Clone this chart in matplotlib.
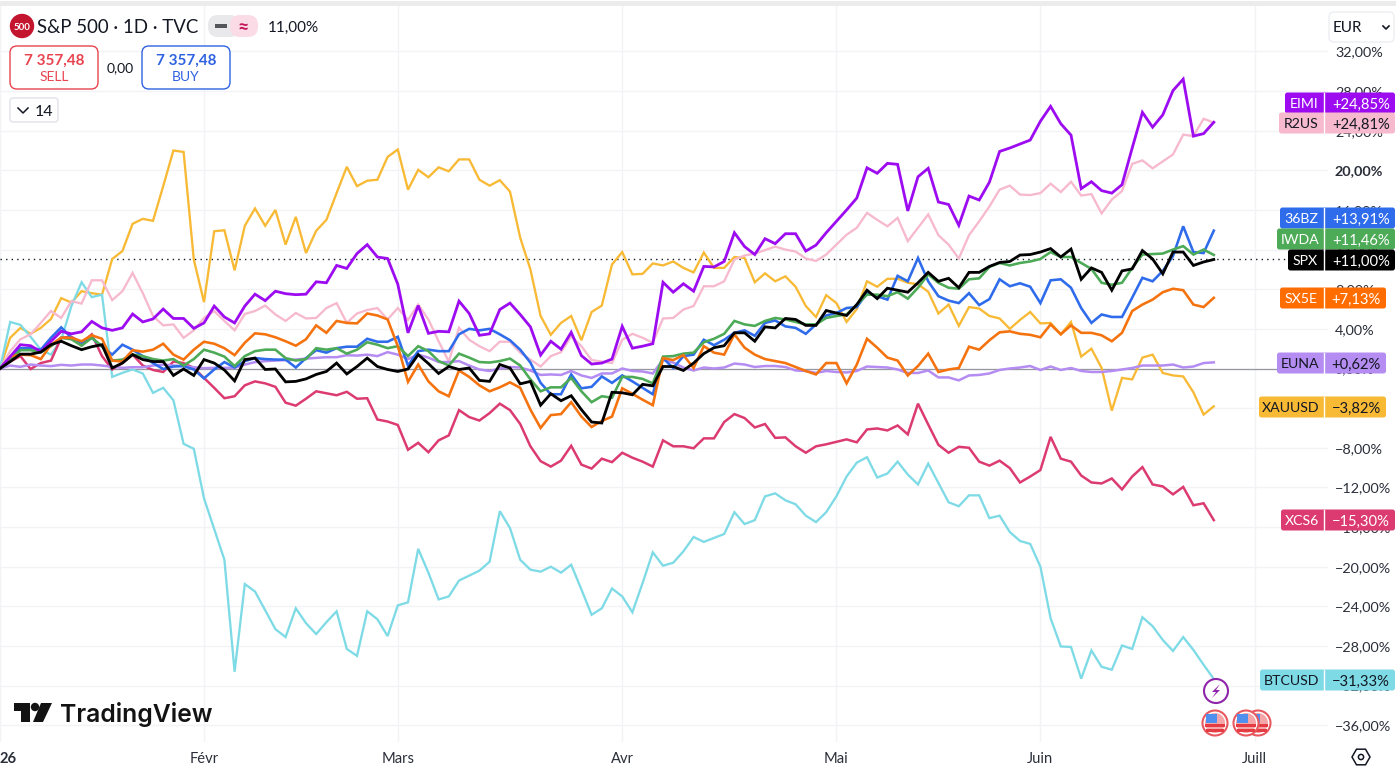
import numpy as np
import matplotlib
matplotlib.use("Agg")
import matplotlib.pyplot as plt
from matplotlib.patches import FancyBboxPatch, Circle, Polygon, Rectangle, RegularPolygon

plt.rcParams['font.family'] = ['Lato', 'DejaVu Sans']

# values in % since the start of the year, one per trading day
xauusd = [0,3.1,4.1,3.5,4.1,5.0,7.1,6.65,7.8,7.6,
          7.45,11.05,11.85,14.6,15.1,14.9,18.4,22.0,21.85,11.0,
          6.7,13.85,13.95,9.9,14.4,16.15,14.4,16.0,12.5,15.3,
          11.65,13.9,15.0,17.7,20.35,18.4,18.95,19.05,21.35,22.1,
          18.05,20.05,19.3,20.3,19.9,21.1,21.1,19.05,18.45,19.0,
          17.85,13.2,10.0,5.3,3.4,4.6,5.3,2.85,5.7,6.35,
          10.5,11.75,9.5,9.55,10.6,10.4,10.8,10.15,9.7,11.7,
          10.15,10.15,11.25,11.15,8.7,9.6,8.8,9.3,8.25,6.3,
          5.2,7.4,6.6,4.7,6.0,8.8,8.25,9.05,9.05,8.65,
          8.5,7.75,5.55,6.45,4.3,6.2,6.05,5.3,5.05,4.0,
          4.9,5.7,4.55,4.6,3.45,4.7,1.2,2.0,0.06,-4.25,
          -0.95,-1.1,1.1,1.4,-0.45,-0.7,-0.8,-2.4,-4.65,-3.82]

btcusd = [0,4.7,4.4,3.2,1.9,1.4,2.9,6.3,8.7,7.2,
          7.45,-0.85,-0.44,-0.1,-0.5,-2.46,-1.95,-3.2,-7.6,-8.1,
          -13.1,-16.2,-19.3,-30.6,-21.75,-22.5,-24.4,-26.3,-27.1,-24.2,
          -25.7,-26.8,-25.6,-24.5,-28.3,-29.0,-24.5,-25.3,-27.0,-23.9,
          -23.6,-18.2,-20.6,-23.3,-23.0,-21.4,-20.9,-20.4,-19.5,-14.4,
          -16.1,-19.3,-20.3,-20.5,-20.0,-20.6,-19.8,-22.3,-24.85,-24.2,
          -22.2,-23.0,-24.6,-21.65,-18.55,-19.9,-19.6,-18.45,-17.0,-17.5,
          -17.1,-16.7,-14.5,-15.7,-15.3,-12.9,-12.6,-13.3,-13.7,-14.85,
          -15.5,-14.5,-12.9,-10.9,-9.5,-8.95,-11.0,-10.6,-9.4,-10.7,
          -11.7,-9.6,-11.55,-13.5,-13.9,-12.8,-12.8,-15.1,-14.85,-16.5,
          -17.4,-17.7,-20.0,-25.2,-28.05,-28.1,-31.3,-28.45,-30.1,-30.4,
          -27.95,-28.3,-25.1,-26.0,-27.4,-28.5,-27.1,-28.4,-29.9,-31.33]

r2us = [0,1.75,2.95,3.45,4.6,5.8,5.1,6.8,6.55,8.9,
        8.9,6.9,7.8,9.65,7.6,5.3,4.35,4.45,3.1,3.85,
        5.1,5.8,4.8,3.85,5.5,5.8,6.35,5.45,4.8,5.6,
        5.05,5.1,6.1,6.6,4.6,5.55,5.9,6.1,4.95,6.1,
        4.9,6.45,4.95,2.75,0.7,4.1,2.9,2.25,1.75,2.7,
        2.7,1.6,0.9,0.2,1.25,1.65,3.25,2.25,0.85,0.7,
        0.55,2.9,3.5,3.1,2.6,5.05,5.1,5.95,6.3,8.3,
        8.3,8.8,11.0,11.4,11.6,11.95,12.3,12.0,11.8,11.1,
        10.85,11.5,12.5,13.5,14.2,15.7,15.0,14.35,15.2,12.85,
        14.2,15.55,13.45,12.5,11.1,13.45,14.85,16.35,18.05,18.45,
        17.55,17.5,17.7,18.65,17.8,18.85,17.45,17.6,15.65,17.05,
        17.9,20.65,21.0,20.2,20.9,21.6,23.6,23.45,25.2,24.81]

xcs6 = [0,0.7,1.25,-0.05,0.55,0.8,3.1,3.2,2.6,3.45,
        1.25,-0.1,0.55,1.4,0.3,-0.15,-0.35,0.7,0.55,0.05,
        -0.95,-1.95,-3.0,-2.8,-1.7,-1.3,-1.5,-1.85,-3.45,-3.75,
        -3.05,-2.3,-2.5,-2.7,-2.35,-3.05,-3.0,-5.15,-5.35,-5.7,
        -8.2,-7.5,-8.45,-7.25,-6.75,-4.2,-4.9,-5.25,-4.5,-3.55,
        -4.2,-5.6,-7.85,-9.35,-9.9,-9.3,-7.8,-9.7,-10.1,-9.1,
        -9.45,-8.5,-9.0,-9.4,-9.9,-7.25,-7.85,-7.85,-8.05,-7.05,
        -7.05,-5.4,-4.6,-5.0,-5.95,-5.6,-7.0,-6.95,-7.85,-8.5,
        -7.85,-7.65,-7.4,-7.15,-7.45,-6.15,-6.05,-6.25,-5.75,-6.65,
        -3.55,-5.65,-7.7,-8.5,-7.9,-8.0,-9.4,-9.8,-9.3,-10.05,
        -11.5,-10.9,-10.25,-6.9,-9.1,-9.4,-10.8,-11.5,-11.6,-11.1,
        -12.2,-10.9,-9.95,-11.7,-11.9,-12.7,-11.95,-13.8,-13.6,-15.3]

euna = [0,0.3,0.17,0.4,0.3,0.24,0.37,0.3,0.4,0.4,
        0.3,0.17,0.07,0.13,0.13,0.3,0.4,0.3,0.24,0.13,
        0.03,0.07,0.07,0.07,0.4,0.64,0.74,0.8,0.84,0.9,
        1.0,1.07,1.14,1.14,1.34,1.3,1.4,1.25,1.65,1.4,
        0.95,1.4,1.1,0.65,0.65,0.75,0.3,-0.1,-0.25,0.0,
        0.15,0.1,-0.2,-0.65,-0.6,-0.65,-0.25,-0.7,-0.95,-0.5,
        -0.5,0.0,-0.25,-0.3,-0.5,0.9,0.6,0.1,-0.2,0.1,
        0.0,0.1,0.5,0.4,0.15,0.25,0.25,0.15,-0.2,-0.25,
        -0.45,-0.25,-0.35,-0.4,-0.25,0.2,0.15,0.1,-0.1,-0.45,
        -0.45,-0.2,-0.9,-0.9,-1.2,-0.7,-0.65,-0.5,-0.15,0.0,
        0.1,0.25,-0.15,0.2,-0.15,0.05,-0.25,-0.35,-0.35,-0.25,
        -0.1,0.05,0.3,0.3,0.3,0.4,0.1,0.2,0.55,0.62]

bz36 = [0,1.05,2.05,2.05,1.9,3.1,4.15,3.1,2.6,3.1,
        2.2,1.4,2.4,1.9,1.25,0.55,-0.05,0.2,0.25,-0.1,
        -1.0,-0.1,0.65,0.1,0.75,1.05,0.95,0.9,0.9,0.1,
        1.05,1.85,1.6,2.05,2.2,2.2,3.0,2.7,2.7,3.2,
        0.3,1.75,1.9,1.75,1.75,3.45,4.0,3.85,4.0,3.45,
        2.85,1.9,0.6,-1.45,-2.6,-2.6,-0.6,-2.0,-1.85,-0.8,
        -1.45,-0.7,-1.3,-1.95,-2.6,1.05,0.05,1.25,1.4,2.9,
        2.35,2.9,3.6,3.85,3.3,4.6,4.85,4.25,4.1,3.5,
        4.45,5.35,5.6,6.1,6.2,7.6,7.3,6.95,9.35,8.8,
        11.15,8.8,7.3,6.85,6.6,7.6,6.4,7.0,9.0,8.3,
        8.6,8.25,6.6,8.9,9.0,8.15,6.1,4.6,5.45,5.2,
        5.2,7.15,9.15,8.8,9.85,11.35,14.35,11.75,11.65,13.91]

iwda = [0,0.9,1.85,1.85,1.65,2.25,3.1,2.95,2.3,3.1,
        2.25,0.8,0.9,1.4,1.25,0.95,0.8,0.95,0.3,0.95,
        1.9,1.6,1.2,0.25,1.25,1.75,1.9,1.9,1.05,0.8,
        0.95,2.05,1.9,2.05,1.5,1.9,2.65,2.4,2.05,2.25,
        1.25,2.25,1.75,0.75,0.3,1.5,1.1,0.65,0.6,0.75,
        1.0,0.3,-1.1,-2.3,-1.9,-1.9,-0.95,-2.3,-3.4,-2.8,
        -2.95,-0.85,-0.85,-1.05,-1.5,1.2,1.25,1.5,1.6,2.65,
        3.0,3.5,4.8,4.45,4.3,4.8,5.1,4.95,4.7,4.45,
        4.45,5.1,5.3,5.45,6.45,7.45,7.45,7.3,7.7,7.05,
        8.15,9.5,8.65,8.15,8.05,9.0,9.1,10.25,10.65,10.4,
        10.65,10.8,11.05,11.75,11.25,11.25,10.65,10.05,8.65,8.45,
        8.65,10.15,11.5,11.55,11.6,12.0,12.35,11.5,12.0,11.46]

sx5e = [0,1.2,1.4,1.35,0.95,2.4,3.1,3.1,2.75,3.35,
        3.0,0.8,0.7,1.85,1.7,1.9,2.5,1.4,0.9,1.9,
        2.7,2.5,2.05,1.35,2.6,3.55,3.45,3.15,2.75,2.3,
        2.95,4.35,3.6,4.8,4.6,4.55,5.55,5.35,4.95,2.25,
        -1.35,0.4,-1.3,-2.3,-2.8,-0.2,-0.85,-1.7,-2.3,-1.9,
        -1.4,-1.95,-4.15,-6.0,-4.7,-4.6,-3.4,-4.85,-5.9,-5.3,
        -4.85,-2.0,-2.55,-3.15,-3.7,1.05,0.85,1.35,0.05,2.25,
        1.6,1.4,3.45,2.1,1.4,0.95,0.75,0.55,0.15,-0.25,
        -0.6,0.55,0.55,-1.5,0.4,3.0,2.1,1.1,0.8,-0.7,
        0.25,1.5,-0.35,-0.1,0.05,2.2,1.9,2.85,3.65,3.75,
        3.5,3.4,3.15,4.45,3.45,4.35,3.6,3.6,3.35,2.75,
        3.6,5.8,6.45,6.95,7.7,8.05,7.9,6.45,6.2,7.13]

eimi = [0,1.2,2.4,2.3,1.7,2.75,3.75,3.5,3.7,4.75,
        4.1,3.85,4.1,5.5,4.7,5.0,6.0,5.05,5.05,4.05,
        4.6,6.3,5.2,4.6,6.3,7.5,6.85,7.8,7.55,7.45,
        7.5,8.75,8.65,10.4,10.1,11.6,12.5,11.25,11.1,8.5,
        3.6,6.35,3.55,3.75,3.7,6.8,5.55,3.35,3.5,5.95,
        6.6,5.45,4.2,1.35,2.75,1.95,3.65,1.3,0.45,0.55,
        0.95,4.25,2.05,2.25,2.5,8.7,7.7,8.55,7.8,10.3,
        10.25,10.8,13.7,12.3,11.5,13.1,12.6,13.6,13.6,11.85,
        12.45,13.7,14.85,16.0,17.2,20.25,19.7,20.7,20.6,15.9,
        19.35,20.2,16.8,16.55,14.45,17.4,17.0,18.8,21.9,22.25,
        22.65,23.05,24.95,26.45,24.7,23.55,18.15,18.85,17.95,17.7,
        18.55,22.25,25.85,24.35,25.6,28.05,29.2,23.45,23.7,24.85]

spx = [0,0.7,1.45,1.45,1.65,2.4,2.75,2.3,1.9,2.2,
       2.4,0.05,0.55,1.4,0.9,0.7,0.7,-0.7,-0.05,-0.7,
       0.9,0.55,-0.15,-1.25,0.9,1.05,-0.1,-0.05,-1.35,-1.3,
       -1.05,-0.6,-0.3,0.55,-0.55,0.2,1.05,0.2,-0.1,-0.3,
       -0.05,1.4,0.5,-0.5,0.2,-0.1,0.05,-1.2,-1.3,0.4,
       0.05,-1.55,-1.3,-3.7,-2.55,-3.25,-2.75,-4.15,-5.4,-5.5,
       -2.4,-2.45,-2.65,-1.6,-1.75,0.2,0.2,-0.2,0.55,1.5,
       2.1,2.3,3.6,3.6,2.75,4.2,4.1,5.05,4.95,4.35,
       4.35,5.85,5.6,5.35,6.45,7.9,7.05,8.1,7.9,7.7,
       8.65,9.7,8.8,9.1,8.15,9.7,9.7,10.3,10.7,10.8,
       11.45,11.5,11.75,12.1,11.25,12.05,9.0,10.15,9.7,7.9,
       9.85,10.05,11.9,11.05,9.55,11.75,11.75,10.4,10.75,11.0]

# trading day index of each month start, and the labels under the chart
month_bars = [0, 20, 39, 61, 82, 102, 123]
month_labels = ['26', 'Févr', 'Mars', 'Avr', 'Mai', 'Juin', 'Juill']
pct_ticks = list(range(-36, 36, 4))

# back to front
series = [(xauusd, '#f8b935', 2.3), (btcusd, '#7edbe6', 2.3), (r2us, '#f6b9cd', 2.3),
          (xcs6, '#dc3b72', 2.5), (euna, '#b48cf2', 2.5), (bz36, '#2f6ceb', 2.6),
          (iwda, '#4daa57', 2.6), (sx5e, '#f5730f', 2.6), (eimi, '#9d0cf0', 2.8),
          (spx, '#000000', 2.8)]

# tag rows: name, text, left edge, right edge, centre row, fill, text colour
tag_names = ['EIMI', 'R2US', '36BZ', 'IWDA', 'SPX', 'SX5E', 'EUNA', 'XAUUSD', 'XCS6', 'BTCUSD']
tag_values = ['+24,85%', '+24,81%', '+13,91%', '+11,46%', '+11,00%', '+7,13%', '+0,62%',
              '\u22123,82%', '\u221215,30%', '\u221231,33%']
tag_left = [1285, 1279, 1280, 1277, 1288, 1280, 1277, 1259, 1281, 1260]
tag_right = [1395, 1395, 1395, 1395, 1395, 1386, 1386, 1386, 1395, 1395]
tag_row = [103, 123, 218, 239, 260, 298, 363, 407, 520, 680]
tag_fill = ['#9d0cf0', '#f6b9cd', '#2f6ceb', '#4daa57', '#000000', '#ff6d00', '#b48cf2',
            '#f8b935', '#dc3b72', '#7edbe6']
tag_text = ['white', '#131722', 'white', 'white', 'white', 'white', '#131722',
            '#131722', 'white', '#131722']

W, H = 1396, 772
fig = plt.figure(figsize=(W / 100, H / 100), dpi=100, facecolor='white')

# chart pane runs from x=0 to x=1328, y=5 to y=742 in pixels
ax = fig.add_axes([0, 1 - 742 / H, 1328 / W, 737 / H])
ax.set_xlim(0, 1328 / 10.2)
ax.set_ylim((368.5 - 742) / 9.91, (368.5 - 5) / 9.91)
for s in ax.spines.values():
    s.set_visible(False)

ax.set_xticks(month_bars, month_labels)
ax.yaxis.tick_right()
ax.set_yticks(pct_ticks, [f'{abs(t)},00%' if t >= 0 else f'\u2212{abs(t)},00%' for t in pct_ticks])
ax.tick_params(axis='x', length=0, pad=7, labelsize=10.6, labelcolor='#2a2e39')
ax.tick_params(axis='y', length=0, pad=5, labelsize=10.4, labelcolor='#2a2e39')
ax.grid(True, color='#f2f3f6', linewidth=1)
ax.set_axisbelow(True)
for lab, t in zip(ax.get_yticklabels(), pct_ticks):
    if t == 20:
        lab.set_fontweight('bold')
first_label = ax.get_xticklabels()[0]
first_label.set_fontweight('bold')
first_label.set_ha('left')

ax.axhline(0, color='#9598a1', linewidth=0.9, zorder=1)
ax.axhline(spx[-1], color='#131722', linewidth=1, linestyle=(0, (1, 3)), zorder=1)

bars = np.arange(len(spx))
for values, colour, width in series:
    ax.plot(bars, values, color=colour, linewidth=width * 0.72, solid_joinstyle='miter', zorder=3)

# overlay in pixel units for the TradingView furniture
ui = fig.add_axes([0, 0, 1, 1], facecolor='none')
ui.set_xlim(0, W)
ui.set_ylim(H, 0)
ui.axis('off')


def box(x0, y0, x1, y1, face='white', edge='none', lw=1.0, r=4):
    ui.add_patch(FancyBboxPatch((x0 + r, y0 + r), x1 - x0 - 2 * r, y1 - y0 - 2 * r,
                                boxstyle=f'round,pad={r},rounding_size={r}',
                                facecolor=face, edgecolor=edge, linewidth=lw))


ui.add_patch(Rectangle((0, 1), W, 4.5, color='#ececec', linewidth=0))

# tags on the price scale
for name, val, left, right, row, fill, tcol in zip(tag_names, tag_values, tag_left, tag_right,
                                                    tag_row, tag_fill, tag_text):
    box(left, row - 10.5, right, row + 10.5, face=fill, r=2.5)
    ui.plot([1323.5, 1323.5], [row - 10.5, row + 10.5], color='white', linewidth=1)
    ui.text((left + 1323) / 2, row, name, color=tcol, fontsize=10.2, ha='center', va='center_baseline')
    ui.text(right - 5, row, val, color=tcol, fontsize=10.6, ha='right', va='center_baseline')

# header
ui.add_patch(Circle((22, 26), 11.5, color='#c4152f'))
ui.text(22, 26, '500', color='white', fontsize=7, fontweight='bold', ha='center', va='center_baseline')
ui.text(37, 26, 'S&P 500 · 1D · TVC', color='#131722', fontsize=13.4, ha='left', va='center_baseline')
box(208, 15, 240, 37, face='#e9e9eb', r=10)
box(230, 15, 258, 37, face='#fbdbe6', r=10)
ui.add_patch(Rectangle((215, 24), 12, 4, color='#55565c', linewidth=0))
ui.text(243, 26, '≈', color='#c2185b', fontsize=14, fontweight='bold', ha='center', va='center_baseline')
ui.text(268, 26, '11,00%', color='#131722', fontsize=11, ha='left', va='center_baseline')

box(10, 46, 98, 89, edge='#e8434f', r=7)
ui.text(54, 59, '7 357,48', color='#e8434f', fontsize=11, fontweight='bold', ha='center', va='center_baseline')
ui.text(54, 76, 'SELL', color='#e8434f', fontsize=10, ha='center', va='center_baseline')
ui.text(120, 67, '0,00', color='#131722', fontsize=10, ha='center', va='center_baseline')
box(142, 46, 230, 89, edge='#2f62e0', r=7)
ui.text(186, 59, '7 357,48', color='#2f62e0', fontsize=11, fontweight='bold', ha='center', va='center_baseline')
ui.text(186, 76, 'BUY', color='#2f62e0', fontsize=10, ha='center', va='center_baseline')

box(10, 98, 58, 122, edge='#e0e3eb', r=3)
ui.plot([18, 23, 28], [108, 113, 108], color='#131722', linewidth=1.1)
ui.text(44, 110, '14', color='#131722', fontsize=11.5, ha='center', va='center_baseline')

box(1329, 12, 1394, 42, edge='#eceef2', r=5)
ui.text(1333, 27, 'EUR', color='#131722', fontsize=11, ha='left', va='center_baseline')
ui.plot([1383, 1386, 1389], [26, 29, 26], color='#131722', linewidth=1.2)

# logo
ui.add_patch(Polygon([(14, 703), (30, 703), (30, 722), (21, 722), (21, 711), (14, 711)], color='#131313', linewidth=0))
ui.add_patch(Circle((35, 707), 4.2, color='#131313', linewidth=0))
ui.add_patch(Polygon([(41, 703), (52, 703), (43, 722), (33, 722)], color='#131313', linewidth=0))
ui.text(60, 712, 'TradingView', color='#131313', fontsize=17.8, fontweight='semibold', family='Inter',
        ha='left', va='center_baseline')


# event markers at the end of the series
def flag(cx, cy):
    ui.add_patch(Circle((cx, cy), 12.5, facecolor='white', edgecolor='#e8585f', linewidth=1.5))
    ui.add_patch(Circle((cx, cy), 10, facecolor='#f4a6a8', linewidth=0))
    ui.add_patch(Rectangle((cx - 10, cy + 1), 20, 3, color='#e53b43', linewidth=0))
    ui.add_patch(Rectangle((cx - 9, cy + 6), 18, 2.5, color='#e53b43', linewidth=0))
    ui.add_patch(Rectangle((cx - 9, cy - 9), 11, 9, color='#4f8fee', linewidth=0))


ui.add_patch(Circle((1216, 691), 12, facecolor='white', edgecolor='#8e24aa', linewidth=1.5))
ui.add_patch(Polygon([(1220, 684), (1212, 692), (1216, 692), (1212, 698), (1220, 690), (1216, 690)],
                     color='#8e24aa', linewidth=0))
flag(1215, 723)
flag(1258, 723)
flag(1246, 723)

# settings icon
ui.add_patch(RegularPolygon((1361, 757), 6, radius=9, orientation=np.pi / 6, facecolor='white',
                            edgecolor='#131722', linewidth=1.1))
ui.add_patch(Circle((1361, 757), 2.6, facecolor='white', edgecolor='#131722', linewidth=1.1))

fig.savefig('out.png', dpi=100)
